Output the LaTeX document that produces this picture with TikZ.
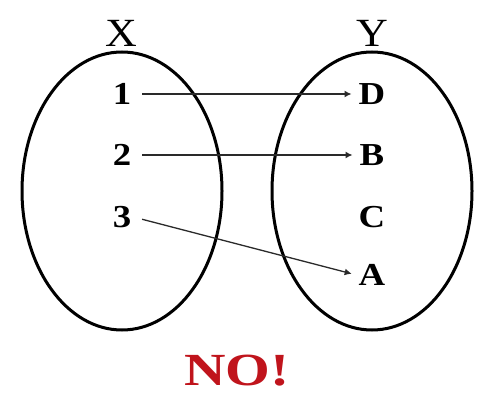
\documentclass[tikz,border=0pt]{standalone}
\usepackage{graphicx}
\usepackage{fontspec}
\setmainfont{Liberation Serif}
\usetikzlibrary{shapes.geometric,arrows.meta}
\definecolor{nored}{HTML}{C0141C}
\definecolor{arrowgrey}{HTML}{2A2A2A}
\newcommand{\widen}[2]{\scalebox{#1}[1]{#2}}
\tikzset{
  setshape/.style={ellipse,draw=black,line width=3pt,inner sep=0pt,minimum width=200pt,minimum height=278pt},
  setlabel/.style={font=\fontsize{40}{44}\selectfont,inner sep=0pt},
  elem/.style={font=\fontsize{32}{36}\selectfont\bfseries,inner sep=2pt},
  mapto/.style={draw=arrowgrey,line width=1.7pt,-{Latex[length=7pt,width=7pt]}},
}
\begin{document}
\begin{tikzpicture}[x=1pt,y=-1pt]
\useasboundingbox[fill=white] (0,0) rectangle (487,398);
\node[setshape] (SX) at (122,191) {};
\node[setshape] (SY) at (372,191) {};
\node[setlabel] (LX) at (121,33) {\widen{1.1}{X}};
\node[setlabel] (LY) at (372,33) {\widen{1.1}{Y}};
\node[elem] (n1) at (122,94) {\widen{1.15}{1}};
\node[elem] (n2) at (122,155) {\widen{1.15}{2}};
\node[elem] (n3) at (122,217) {\widen{1.15}{3}};
\node[elem] (D) at (372,94) {\widen{1.15}{D}};
\node[elem] (B) at (372,155) {\widen{1.15}{B}};
\node[elem] (C) at (372,217) {\widen{1.15}{C}};
\node[elem] (A) at (372,275) {\widen{1.15}{A}};
\draw[mapto,shorten <=9pt,shorten >=5pt] (n1.east) -- (D.west);
\draw[mapto,shorten <=9pt,shorten >=5pt] (n2.east) -- (B.west);
\draw[mapto,line width=1.3pt,shorten <=9pt,shorten >=5pt] (n3.east) -- (A.west);
\node[font=\fontsize{46}{50}\selectfont\bfseries,text=nored,inner sep=0pt] (NO) at (237,371) {\widen{1.25}{NO!}};
\end{tikzpicture}
\end{document}
